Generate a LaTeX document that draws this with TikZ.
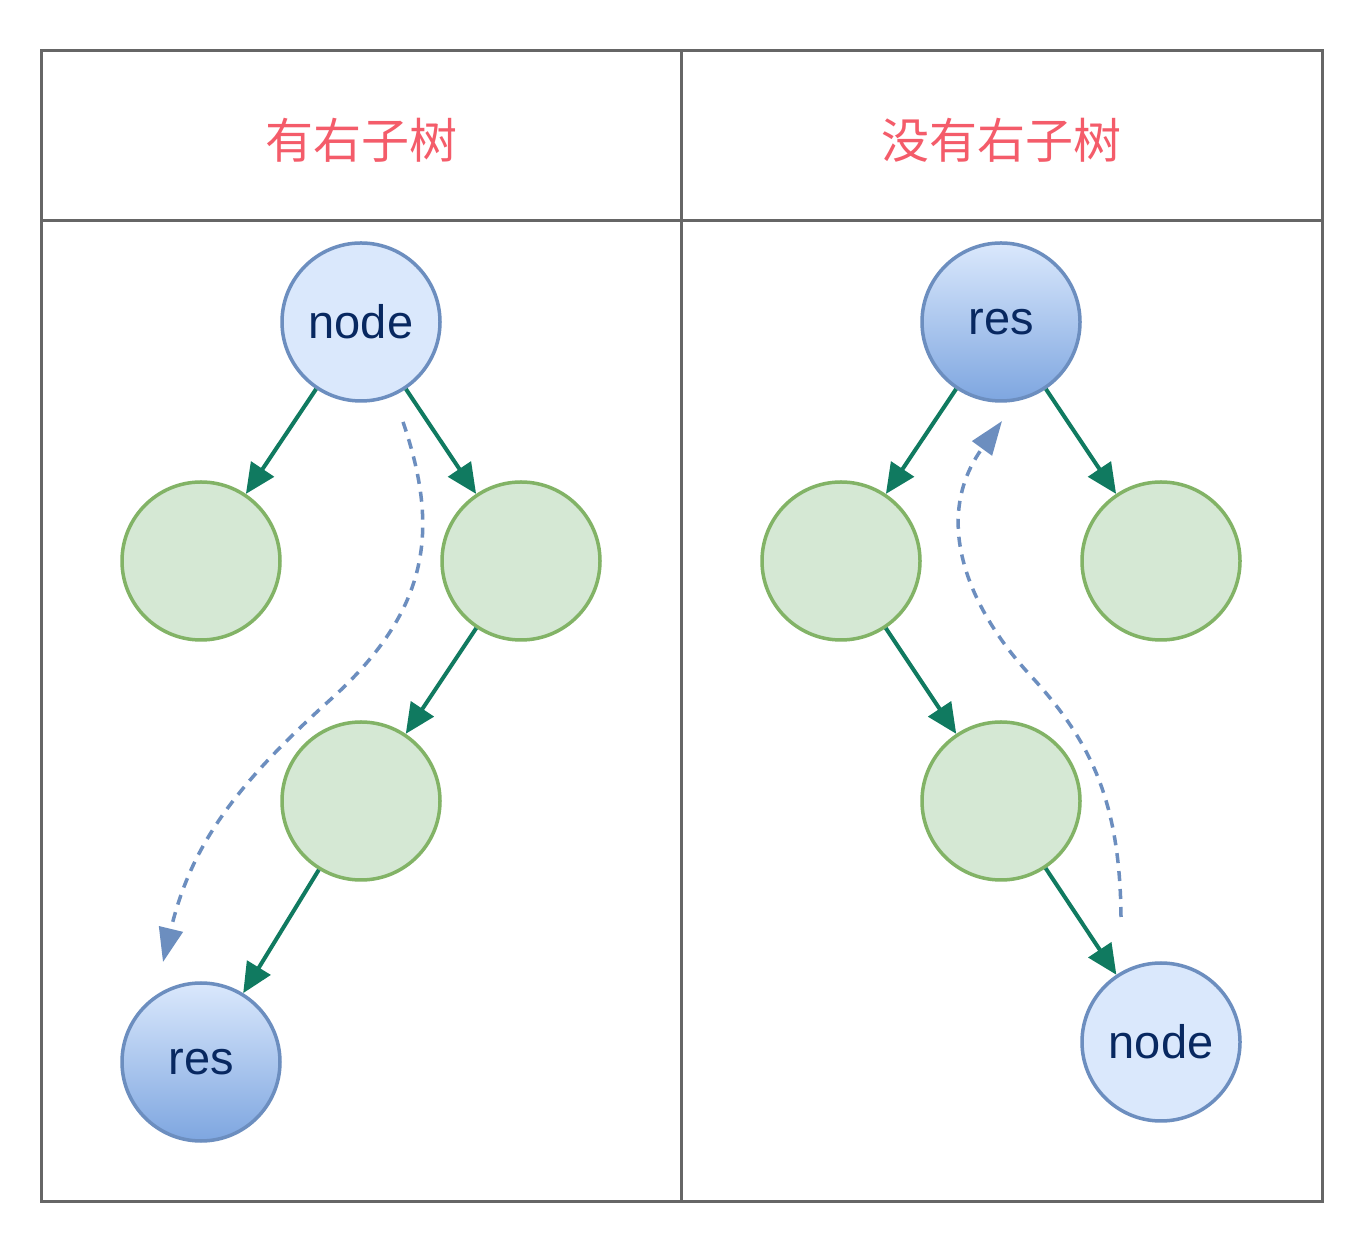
\documentclass[tikz,border=0pt]{standalone}
\usepackage{fontspec}
\setmainfont{Liberation Sans}
\newfontfamily\cjk{Noto Sans CJK SC}
\usetikzlibrary{arrows.meta}
\begin{document}
\begin{tikzpicture}[x=1pt,y=1pt,
  frame/.style={draw=frameColor,line width=3pt},
  title/.style={text=titleColor,font=\cjk\fontsize{48}{52}\selectfont,inner sep=0pt},
  plain/.style={circle,draw=nodeDraw,fill=nodeFill,line width=3.5pt,minimum size=158pt,inner sep=0pt,
    text=labelColor,font=\fontsize{47}{52}\selectfont},
  result/.style={plain,top color=nodeFill,bottom color=resBottom},
  leaf/.style={circle,draw=leafDraw,fill=leafFill,line width=3.5pt,minimum size=158pt,inner sep=0pt},
  edge/.style={draw=edgeColor,line width=4pt,-{Triangle[length=30pt,width=27pt]}},
  walk/.style={draw=nodeDraw,line width=3.5pt,dash pattern=on 10pt off 8pt,-{Triangle[length=34pt,width=24pt]}}]
\definecolor{frameColor}{RGB}{102,102,102}
\definecolor{titleColor}{RGB}{244,92,106}
\definecolor{nodeDraw}{RGB}{108,142,191}
\definecolor{nodeFill}{RGB}{218,232,252}
\definecolor{resBottom}{RGB}{126,166,224}
\definecolor{leafDraw}{RGB}{130,179,102}
\definecolor{leafFill}{RGB}{213,232,212}
\definecolor{edgeColor}{RGB}{16,122,96}
\definecolor{labelColor}{RGB}{8,40,96}
\path[use as bounding box,fill=white] (0,0) rectangle (1364,1244);

% table
\path[frame] (41,43) rectangle (1322,1193);
\path[frame] (681,43) -- (681,1193);
\path[frame] (41,1023) -- (1322,1023);
\node[title] (tl) at (361,1104) {有右子树};
\node[title] (tr) at (1001,1104) {没有右子树};

% left: with right subtree
\node[plain] (nodeL) at (361,922) {node};
\node[leaf] (la) at (201,683) {};
\node[leaf] (lb) at (521,683) {};
\node[leaf] (lc) at (361,443) {};
\node[result] (resL) at (201,182) {res};
\path[edge] (nodeL) -- (la);
\path[edge] (nodeL) -- (lb);
\path[edge] (lb) -- (lc);
\path[edge] (lc) -- (resL);
\coordinate (ls) at (403,822);
\coordinate (lm) at (330,544);
\coordinate (le) at (163,282);
\path[walk] (ls) .. controls (440,714) and (430,634) .. (lm)
  .. controls (230,454) and (190,394) .. (le);

% right: without right subtree
\node[result] (resR) at (1001,922) {res};
\node[leaf] (ra) at (841,683) {};
\node[leaf] (rb) at (1161,683) {};
\node[leaf] (rc) at (1001,443) {};
\node[plain] (nodeR) at (1161,202) {node};
\path[edge] (resR) -- (ra);
\path[edge] (resR) -- (rb);
\path[edge] (ra) -- (rc);
\path[edge] (rc) -- (nodeR);
\coordinate (rs) at (1121,327);
\coordinate (rm) at (1030,569);
\coordinate (re) at (1002,823);
\path[walk] (rs) .. controls (1120,444) and (1090,504) .. (rm)
  .. controls (970,634) and (930,724) .. (re);
\end{tikzpicture}
\end{document}
